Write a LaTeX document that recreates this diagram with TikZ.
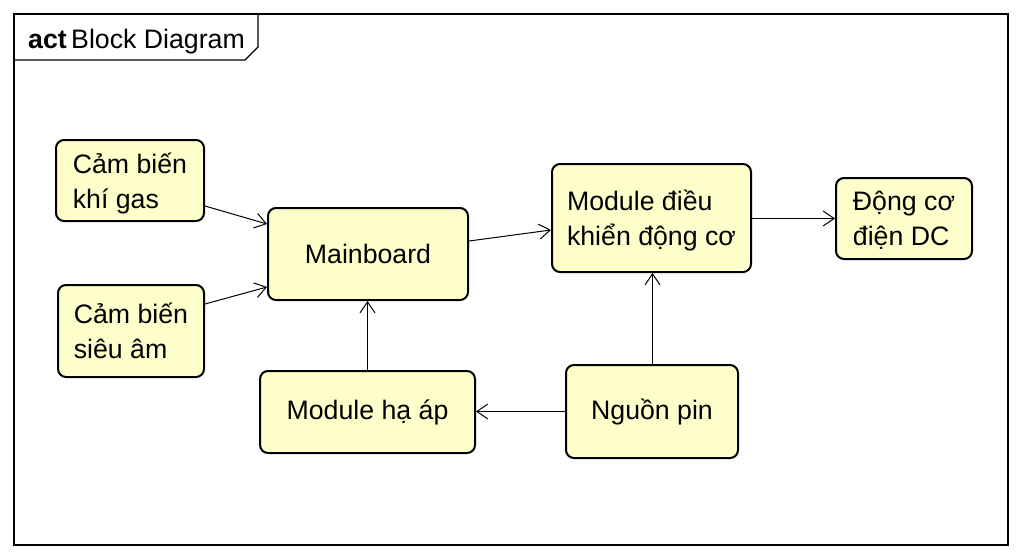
\documentclass[tikz,border=0pt]{standalone}
\usepackage{fontspec}
\setmainfont{Liberation Sans}
\usetikzlibrary{arrows.meta}
\definecolor{y1}{HTML}{FFFFCC}

\tikzset{
  blk/.style={draw=black, fill=y1, line width=2pt, rounded corners=8pt,
    align=left, inner sep=0pt, font=\fontsize{26.7}{35}\selectfont},
  con/.style={line width=1pt, -{Straight Barb[length=11pt,width=15pt,line width=1pt]}}
}

\begin{document}
\begin{tikzpicture}[x=1pt,y=-1pt]
\useasboundingbox (0,0) rectangle (1022,558);
\fill[white] (0,0) rectangle (1022,558);

% frame and heading
\draw[line width=1.2pt] (14,14) rectangle (1008,545);
\draw[line width=1.2pt] (14,60) -- (245,60) -- (258,47) -- (258,14);
\node[anchor=base west, inner sep=0pt, font=\fontsize{26.7}{32}\selectfont] (title) at (28,48) {\textbf{act}\,Block Diagram};

% blocks
\node[blk, minimum width=148pt, minimum height=81pt, text depth=-3pt] (gas) at (130,180.5) {Cảm biến\\khí gas};
\node[blk, minimum width=146pt, minimum height=92pt, text depth=-3pt] (sonar) at (131,331) {Cảm biến\\siêu âm};
\node[blk, minimum width=200pt, minimum height=92pt] (main) at (368,254) {Mainboard};
\node[blk, minimum width=199pt, minimum height=108pt, text depth=-3pt] (ctrl) at (651.5,218) {Module điều\\khiển động cơ};
\node[blk, minimum width=136pt, minimum height=81pt, text depth=-3pt] (motor) at (904,218.5) {Động cơ\\điện DC};
\node[blk, minimum width=215pt, minimum height=82pt] (buck) at (367.5,412) {Module hạ áp};
\node[blk, minimum width=172pt, minimum height=93pt] (pin) at (652,411.5) {Nguồn pin};

% connectors
\draw[con] ([yshift=-25.5pt]gas.east) -- ([yshift=30pt]main.west);
\draw[con] ([yshift=27pt]sonar.east) -- ([yshift=-33pt]main.west);
\draw[con] ([yshift=13pt]main.east) -- ([yshift=-12pt]ctrl.west);
\draw[con] ([yshift=-0.5pt]ctrl.east) -- ([yshift=-0.5pt]ctrl.east -| motor.west);
\draw[con] (buck.north) -- (buck.north |- main.south);
\draw[con] (pin.west) -- (pin.west -| buck.east);
\draw[con] ([xshift=0.5pt]pin.north) -- ([xshift=0.5pt]pin.north |- ctrl.south);
\end{tikzpicture}
\end{document}
